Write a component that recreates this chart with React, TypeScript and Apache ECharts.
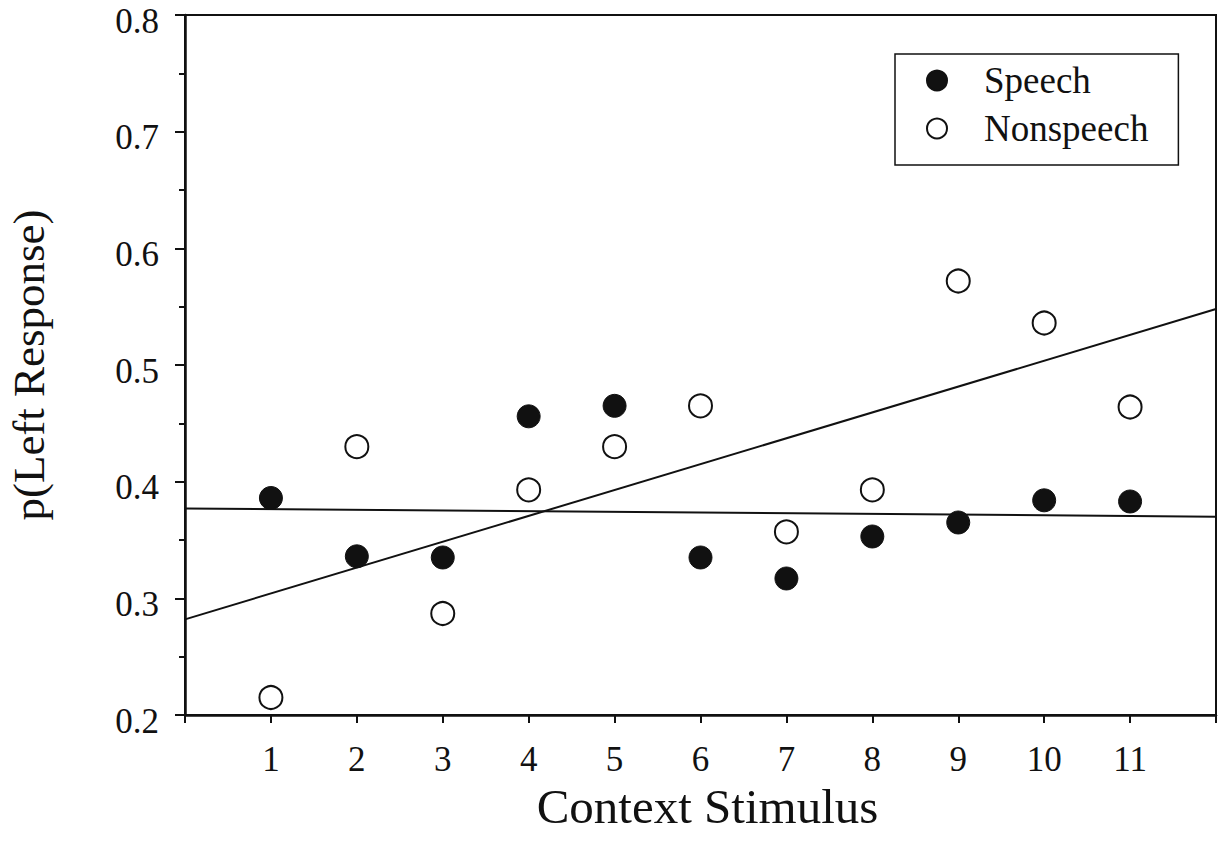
import React, { useEffect, useRef } from "react";
import * as echarts from "echarts";

const stimuli = [1, 2, 3, 4, 5, 6, 7, 8, 9, 10, 11];
const speech = [0.386, 0.336, 0.335, 0.456, 0.465, 0.335, 0.317, 0.353, 0.365, 0.384, 0.383];
const nonspeech = [0.215, 0.43, 0.287, 0.393, 0.43, 0.465, 0.357, 0.393, 0.572, 0.536, 0.464];
const speechFitX = [0, 12];
const speechFitY = [0.377, 0.37];
const nonspeechFitX = [0, 12];
const nonspeechFitY = [0.282, 0.548];
const yTicks = [0.2, 0.3, 0.4, 0.5, 0.6, 0.7, 0.8];

const FONT = "'Liberation Serif', 'Times New Roman', serif";
const INK = "#111";

export default function App() {
  const ref = useRef<HTMLDivElement>(null);
  useEffect(() => {
    if (!ref.current) return;
    const chart = echarts.init(ref.current, undefined, { renderer: "svg" });
    chart.setOption({
      animation: false,
      backgroundColor: "#fff",
      textStyle: { fontFamily: FONT, color: INK },
      grid: {
        left: 185,
        right: 2,
        top: 15,
        bottom: 134,
        containLabel: false,
        outerBoundsMode: "none",
        show: true,
        borderColor: INK,
        borderWidth: 2,
      },
      legend: {
        left: 895,
        top: 54,
        orient: "vertical",
        data: ["Speech", "Nonspeech"],
        icon: "circle",
        itemWidth: 20,
        itemHeight: 20,
        itemGap: 11,
        padding: [8, 30, 18, 31],
        borderColor: INK,
        borderWidth: 1.5,
        textStyle: {
          fontFamily: FONT,
          fontSize: 37,
          lineHeight: 36,
          color: INK,
          padding: [0, 0, 0, 32],
        },
      },
      xAxis: {
        type: "value",
        min: 0,
        max: 12,
        interval: 1,
        name: "Context Stimulus",
        nameLocation: "middle",
        nameGap: 60,
        nameTextStyle: { fontFamily: FONT, fontSize: 49, color: INK, padding: [0, 0, 0, 14] },
        splitLine: { show: false },
        axisLine: { show: true, lineStyle: { color: INK, width: 2.5 } },
        axisTick: { show: true, length: 8, inside: false, lineStyle: { color: INK, width: 2 } },
        axisLabel: {
          fontFamily: FONT,
          fontSize: 35,
          color: INK,
          margin: 27,
          formatter: (v: number) => (stimuli.includes(v) ? String(v) : ""),
        },
      },
      yAxis: {
        type: "value",
        min: yTicks[0],
        max: yTicks[yTicks.length - 1],
        interval: 0.1,
        name: "p(Left Response)",
        nameLocation: "middle",
        nameGap: 136,
        nameTextStyle: { fontFamily: FONT, fontSize: 45, lineHeight: 40, color: INK },
        splitLine: { show: false },
        axisLine: { show: true, lineStyle: { color: INK, width: 2.5 } },
        axisTick: { show: true, length: 10, lineStyle: { color: INK, width: 2 } },
        minorTick: { show: true, splitNumber: 2, length: 6, lineStyle: { color: INK, width: 2 } },
        axisLabel: {
          fontFamily: FONT,
          fontSize: 35,
          lineHeight: 12,
          verticalAlign: "top",
          color: INK,
          margin: 26,
          formatter: (v: number) => v.toFixed(1),
        },
      },
      series: [
        {
          name: "Speech",
          type: "scatter",
          symbol: "circle",
          symbolSize: 23,
          itemStyle: { color: INK, borderColor: INK, borderWidth: 1, opacity: 1 },
          data: stimuli.map((x, i) => [x, speech[i]]),
          z: 3,
        },
        {
          name: "Nonspeech",
          type: "scatter",
          symbol: "circle",
          symbolSize: 23,
          itemStyle: { color: "#fff", borderColor: INK, borderWidth: 2, opacity: 1 },
          data: stimuli.map((x, i) => [x, nonspeech[i]]),
          z: 3,
        },
        {
          name: "Speech fit",
          type: "line",
          symbol: "none",
          silent: true,
          lineStyle: { color: INK, width: 2 },
          data: speechFitX.map((x, i) => [x, speechFitY[i]]),
          z: 2,
        },
        {
          name: "Nonspeech fit",
          type: "line",
          symbol: "none",
          silent: true,
          lineStyle: { color: INK, width: 2 },
          data: nonspeechFitX.map((x, i) => [x, nonspeechFitY[i]]),
          z: 2,
        },
      ],
    });
    return () => chart.dispose();
  }, []);
  return (
    <div
      ref={ref}
      style={{ position: "absolute", left: 0, top: 0, width: 1218, height: 849, background: "#fff" }}
    />
  );
}
